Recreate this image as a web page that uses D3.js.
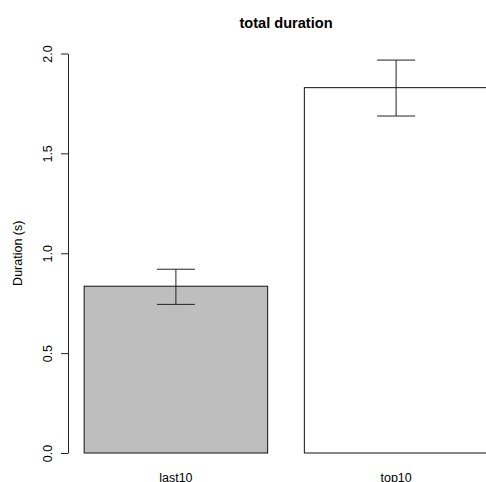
<!DOCTYPE html>
<html>
<head>
<meta charset="utf-8">
<script src="https://cdn.jsdelivr.net/npm/d3@7"></script>
<style>
  html, body { margin: 0; padding: 0; background: #fff; }
  svg { display: block; font-family: "Liberation Sans", Arial, sans-serif; }
</style>
</head>
<body>
<div id="chart"></div>
<script>
// ---- data ----
const categories = ["last10", "top10"];
const means = [0.835, 1.829];
const upper = [0.920, 1.967];
const lower = [0.744, 1.687];
const fills = ["#bebebe", "#ffffff"];
const yTicks = [0, 0.5, 1, 1.5, 2];
const title = "total duration";
const yLabel = "Duration (s)";

// ---- layout ----
const W = 486, H = 482;
const barWidth = 1, space = 0.2;
const lefts = categories.map((c, i) => space + i * (barWidth + space));
const xmin = d3.min(lefts), xmax = d3.max(lefts) + barWidth;
const pad = (xmax - xmin) * 0.04;

const x = d3.scaleLinear().domain([xmin - pad, xmax + pad]).range([68, 504]);
const y = d3.scaleLinear().domain([0, 2]).range([453, 53.5]);

const svg = d3.select("#chart").append("svg")
  .attr("width", W).attr("height", H);

// bars
svg.selectAll("rect.bar").data(categories).join("rect")
  .attr("class", "bar")
  .attr("x", (d, i) => x(lefts[i]))
  .attr("width", (d, i) => x(lefts[i] + barWidth) - x(lefts[i]))
  .attr("y", (d, i) => y(means[i]))
  .attr("height", (d, i) => y(0) - y(means[i]))
  .attr("fill", (d, i) => fills[i])
  .attr("stroke", "#111")
  .attr("stroke-width", 1);

// error bars
const capHalf = 19;
const eb = svg.append("g").attr("stroke", "#222").attr("stroke-width", 1).attr("fill", "none");
categories.forEach((c, i) => {
  const cx = x(lefts[i] + barWidth / 2);
  eb.append("line").attr("x1", cx).attr("x2", cx).attr("y1", y(lower[i])).attr("y2", y(upper[i]));
  eb.append("line").attr("x1", cx - capHalf).attr("x2", cx + capHalf).attr("y1", y(upper[i])).attr("y2", y(upper[i]));
  eb.append("line").attr("x1", cx - capHalf).attr("x2", cx + capHalf).attr("y1", y(lower[i])).attr("y2", y(lower[i]));
});

// y axis
const yAxis = svg.append("g").attr("transform", `translate(${x.range()[0]},0)`)
  .call(d3.axisLeft(y).tickValues(yTicks).tickFormat(d3.format(".1f")).tickSize(7).tickSizeOuter(0));
yAxis.selectAll("path, line").attr("stroke", "#222");
yAxis.selectAll("text")
  .attr("x", null).attr("dy", null)
  .attr("transform", "translate(-16,0) rotate(-90)")
  .attr("text-anchor", "middle")
  .attr("fill", "#000")
  .style("font-size", "12.5px")
  .style("font-family", "Liberation Sans, Arial, sans-serif");

// x category labels
svg.selectAll("text.xlab").data(categories).join("text")
  .attr("class", "xlab")
  .attr("x", (d, i) => x(lefts[i] + barWidth / 2))
  .attr("y", 482)
  .attr("text-anchor", "middle")
  .attr("font-size", 12.5)
  .text(d => d);

// y label
svg.append("text")
  .attr("transform", `translate(21.5,${(y(0) + y(2)) / 2}) rotate(-90)`)
  .attr("text-anchor", "middle")
  .attr("font-size", 12.5)
  .text(yLabel);

// title
svg.append("text")
  .attr("x", (x.range()[0] + x.range()[1]) / 2)
  .attr("y", 28)
  .attr("text-anchor", "middle")
  .attr("font-size", 14.6)
  .attr("font-weight", "bold")
  .text(title);
</script>
</body>
</html>
